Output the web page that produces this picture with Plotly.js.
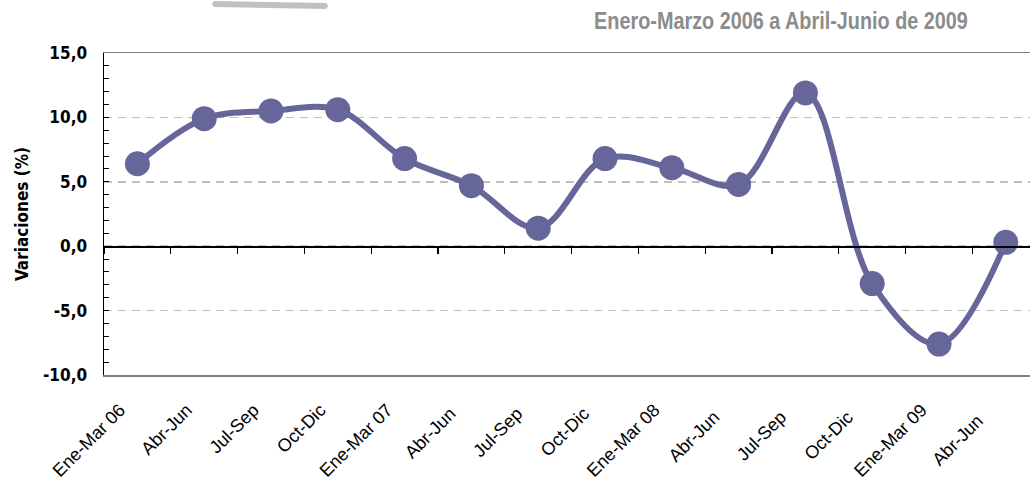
<!DOCTYPE html>
<html>
<head>
<meta charset="utf-8">
<script src="https://cdn.plot.ly/plotly-3.0.1.min.js"></script>
<style>
html,body{margin:0;padding:0;background:#fff;}
#chart{width:1030px;height:483px;}
</style>
</head>
<body>
<div id="chart"></div>
<script>
var categories = ["Ene-Mar 06","Abr-Jun","Jul-Sep","Oct-Dic","Ene-Mar 07","Abr-Jun ","Jul-Sep ","Oct-Dic ","Ene-Mar 08","Abr-Jun  ","Jul-Sep  ","Oct-Dic  ","Ene-Mar 09","Abr-Jun   "];
var variaciones = [6.4, 9.9, 10.5, 10.6, 6.8, 4.7, 1.4, 6.8, 6.1, 4.8, 11.9, -2.9, -7.6, 0.3];
var yTicks = [-10, -5, 0, 5, 10, 15];
var yTickText = yTicks.map(function (v) { return v.toFixed(1).replace(".", ","); });

var lineColor = "#66669a";
var xr = [-0.5, 13.362];
var labelShift = 0.26;

var traces = [
  {
    x: categories, y: variaciones, type: "scatter", mode: "lines+markers",
    line: {color: lineColor, width: 6, shape: "spline", smoothing: 1},
    marker: {color: lineColor, size: 25},
    cliponaxis: false, hoverinfo: "skip", xaxis: "x2", yaxis: "y"
  },
  {
    x: categories, y: variaciones, type: "scatter", mode: "lines",
    line: {color: "rgba(0,0,0,0)", width: 0},
    hoverinfo: "skip", xaxis: "x", yaxis: "y", showlegend: false
  }
];

var layout = {
  width: 1030, height: 483,
  margin: {l: 104, r: 0, t: 53, b: 108},
  paper_bgcolor: "#fff", plot_bgcolor: "#fff",
  showlegend: false,
  title: {
    text: "Enero-Marzo 2006 a Abril-Junio de 2009",
    font: {family: "Liberation Sans, Arial, sans-serif", size: 24, color: "#8c8c8c", weight: "bold"},
    x: 781/1030, xanchor: "center", xref: "paper",
    y: 1 - 21/483, yanchor: "middle", yref: "container"
  },
  xaxis: {
    type: "category",
    range: [xr[0] + labelShift, xr[1] + labelShift],
    showline: true, linecolor: "#808080", linewidth: 1.5, mirror: true,
    showgrid: false, zeroline: false,
    ticks: "", tickangle: -45,
    ticklabelstandoff: 16,
    tickfont: {family: "Liberation Sans, Arial, sans-serif", size: 18, color: "#000"}
  },
  xaxis2: {
    type: "category",
    overlaying: "x", anchor: "free", position: 0.4, side: "bottom",
    range: xr,
    showline: true, linecolor: "#000", linewidth: 1.5,
    showgrid: false, zeroline: false,
    ticks: "outside", tickson: "boundaries", ticklen: 6, tickwidth: 1.2, tickcolor: "#000",
    showticklabels: false
  },
  yaxis: {
    range: [-10, 15],
    tickvals: yTicks, ticktext: yTickText,
    showline: true, linecolor: "#000", linewidth: 1.5,
    ticks: "inside", ticklen: 5, tickcolor: "#000", tickwidth: 1,
    minor: {dtick: 1, ticks: "inside", ticklen: 5, tickcolor: "#000", tickwidth: 1, showgrid: false},
    showgrid: true, gridcolor: "#c0c0c0", gridwidth: 1.5, griddash: "8px,6px",
    zeroline: false,
    ticklabelstandoff: 12,
    tickfont: {family: "DejaVu Sans Condensed, Tahoma, DejaVu Sans, sans-serif", size: 17, color: "#000", weight: "bold"},
    title: {
      text: "Variaciones (%)", standoff: 10,
      font: {family: "DejaVu Sans Condensed, Tahoma, DejaVu Sans, sans-serif", size: 17, color: "#000", weight: "bold"}
    }
  },
  shapes: [
    {
      type: "path", xref: "paper", yref: "paper", layer: "above",
      path: "M 0.1189,1.1615 L 0.2397,1.1553 Q 0.2440,1.1460 0.2397,1.1366 L 0.1189,1.1428 Q 0.1146,1.1521 0.1189,1.1615 Z",
      fillcolor: "#c0c0c0", line: {width: 0}
    }
  ]
};

Plotly.newPlot("chart", traces, layout, {displayModeBar: false, staticPlot: true}).then(function (gd) {
  var t = gd.querySelector(".gtitle");
  if (t && t.getBBox) {
    var bb = t.getBBox();
    var targetW = 374, targetCx = 781;
    var s = targetW / bb.width;
    var cx = bb.x + bb.width / 2;
    t.setAttribute("transform", "translate(" + targetCx + ",0) scale(" + s + ",1) translate(" + (-cx) + ",0)");
  }
});
</script>
</body>
</html>
